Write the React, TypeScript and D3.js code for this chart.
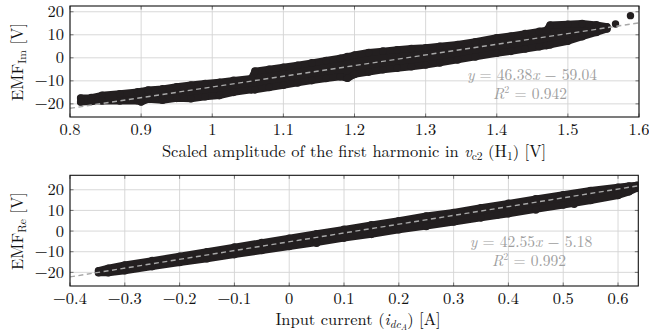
import React from 'react'
import { scaleLinear, area, line } from 'd3'

// ---- top panel data ----
const topXTicks = [0.8, 0.9, 1, 1.1, 1.2, 1.3, 1.4, 1.5, 1.6]
const yTicks = [-20, -10, 0, 10, 20]
const topBandX = [0.815, 0.83, 0.845, 0.87, 0.895, 0.9, 0.91, 0.93, 0.95, 0.97, 0.99, 1.01, 1.03, 1.055, 1.06, 1.08, 1.1, 1.12, 1.14, 1.16, 1.18, 1.19, 1.2, 1.22, 1.24, 1.26, 1.28, 1.3, 1.32, 1.345, 1.37, 1.4, 1.42, 1.44, 1.46, 1.47, 1.475, 1.5, 1.52, 1.54, 1.555]
const topBandUpper = [-17.5, -17.3, -16.3, -15.6, -14.8, -14.6, -14.0, -13.5, -12.6, -11.8, -11.2, -10.6, -9.8, -9.0, -5.8, -5.0, -4.1, -3.2, -2.2, -1.2, -0.2, 0.5, 1.2, 2.3, 2.9, 3.5, 4.0, 4.4, 5.0, 5.8, 7.0, 8.7, 9.5, 10.5, 11.5, 12.0, 14.2, 14.6, 14.9, 14.3, 13.5]
const topBandLower = [-19.2, -19.0, -18.7, -18.7, -18.6, -19.2, -18.0, -18.4, -17.6, -17.8, -16.9, -16.4, -15.0, -13.9, -13.9, -12.9, -11.9, -10.9, -9.9, -9.0, -8.2, -8.9, -7.2, -6.2, -5.2, -4.5, -3.9, -3.1, -2.2, -0.9, 0.4, 2.0, 2.8, 3.8, 4.8, 5.3, 5.6, 7.2, 9.2, 11.0, 12.5]
const topOutX = [1.567, 1.588]
const topOutY = [14.7, 18.3]
const topFit = { a: 46.38, b: -59.04, r2: '0.942' }

// ---- bottom panel data ----
const botXTicks = [-0.4, -0.3, -0.2, -0.1, 0, 0.1, 0.2, 0.3, 0.4, 0.5, 0.6]
const botBandX = [-0.348, -0.33, -0.3, -0.25, -0.2, -0.15, -0.1, -0.05, 0, 0.05, 0.1, 0.15, 0.2, 0.25, 0.3, 0.35, 0.4, 0.45, 0.5, 0.55, 0.6, 0.62, 0.635]
const botBandUpper = [-19.2, -18.0, -16.4, -14.3, -12.2, -10.0, -7.8, -5.6, -3.5, -1.3, 0.8, 3.0, 5.0, 7.3, 9.0, 11.3, 13.4, 15.6, 17.6, 19.6, 21.2, 21.8, 22.2]
const botBandLower = [-20.2, -20.2, -19.2, -17.2, -15.2, -13.4, -11.4, -9.4, -7.5, -5.6, -3.4, -1.6, 0.6, 2.4, 4.4, 6.4, 8.4, 10.6, 12.6, 14.8, 17.2, 19.0, 20.8]
const botOutX = [0.05, 0.25, 0.38, 0.45, 0.52]
const botOutY = [-5.9, 2.2, 7.8, 10.2, 13.0]
const botFit = { a: 42.55, b: -5.18, r2: '0.992' }

const ink = '#231f20'
const font = "'Latin Modern Roman', 'Liberation Serif', serif"

const fmt = (t: number) => String(t).replace('-', '\u2212')

function Panel(props: any) {
  const { id, xDomain, yDomain, x0, x1, y0, y1, xTicks, bandX, upper, lower, outX, outY, fit, eqPos } = props
  const x = scaleLinear().domain(xDomain).range([x0, x1])
  const y = scaleLinear().domain(yDomain).range([y1, y0])

  const band = area<number>()
    .x((d, i) => x(bandX[i]))
    .y0((d, i) => y(lower[i]))
    .y1((d, i) => y(upper[i]))
  const fitLine = line<number>()
    .x(d => x(d))
    .y(d => y(fit.a * d + fit.b))

  return (
    <g>
      <defs>
        <clipPath id={'clip-' + id}>
          <rect x={x0} y={y0} width={x1 - x0} height={y1 - y0} />
        </clipPath>
      </defs>
      {/* grid */}
      {xTicks.map((t: number) => (
        <line key={'gx' + t} x1={x(t)} x2={x(t)} y1={y0} y2={y1} stroke="#d4d4d4" strokeWidth={0.9} />
      ))}
      {yTicks.map(t => (
        <line key={'gy' + t} x1={x0} x2={x1} y1={y(t)} y2={y(t)} stroke="#d4d4d4" strokeWidth={0.9} />
      ))}
      {/* inner ticks */}
      {xTicks.map((t: number) => (
        <g key={'tx' + t} stroke="#555" strokeWidth={0.8}>
          <line x1={x(t)} x2={x(t)} y1={y1} y2={y1 - 3.5} />
          <line x1={x(t)} x2={x(t)} y1={y0} y2={y0 + 3.5} />
        </g>
      ))}
      {yTicks.map(t => (
        <g key={'ty' + t} stroke="#555" strokeWidth={0.8}>
          <line x1={x0} x2={x0 + 3.5} y1={y(t)} y2={y(t)} />
          <line x1={x1} x2={x1 - 3.5} y1={y(t)} y2={y(t)} />
        </g>
      ))}

      <g clipPath={`url(#clip-${id})`}>
        {/* scatter band */}
        <path d={band(bandX) || ''} fill={ink} stroke={ink} strokeWidth={7} strokeLinejoin="round" />
        {bandX.map((v: number, i: number) => (
          <g key={'b' + i} fill={ink}>
            <circle cx={x(v)} cy={y(upper[i])} r={3.8} />
            <circle cx={x(v)} cy={y(lower[i])} r={3.8} />
          </g>
        ))}
        {outX.map((v: number, i: number) => (
          <circle key={'o' + i} cx={x(v)} cy={y(outY[i])} r={3.7} fill={ink} />
        ))}
        {/* fit */}
        <path d={fitLine(xDomain) || ''} fill="none" stroke="#a8a8a8" strokeWidth={1.4} strokeDasharray="5,3.5" />
      </g>

      <rect x={x0} y={y0} width={x1 - x0} height={y1 - y0} fill="none" stroke="#111" strokeWidth={1.1} />

      {/* tick labels */}
      {xTicks.map((t: number) => (
        <text key={'lx' + t} x={x(t)} y={y1 + 18} textAnchor="middle" fontSize={16.5} fontFamily={font} fill="#111">
          {fmt(t)}
        </text>
      ))}
      {yTicks.map(t => (
        <text key={'ly' + t} x={x0 - 6} y={y(t) + 5.5} textAnchor="end" fontSize={16.5} fontFamily={font} fill="#111">
          {fmt(t)}
        </text>
      ))}

      {/* equation */}
      <g fontFamily={font} fontSize={15.5} fill="#9e9e9e" textAnchor="middle">
        <text x={eqPos[0]} y={eqPos[1]}>
          <tspan fontStyle="italic">y</tspan> = {fit.a.toFixed(2)}<tspan fontStyle="italic">x</tspan> {'\u2212'} {Math.abs(fit.b).toFixed(2)}
        </text>
        <text x={eqPos[0] - 2} y={eqPos[1] + 19}>
          <tspan fontStyle="italic">R</tspan><tspan fontSize={10} dy={-6}>2</tspan><tspan dy={6}>{'  '}=  {fit.r2}</tspan>
        </text>
      </g>
    </g>
  )
}

export default function App() {
  return (
    <svg width={649} height={335} style={{ position: 'absolute', left: 0, top: 0, background: '#fff' }}>
      <Panel id="top" xDomain={[0.8, 1.6]} yDomain={[-25.7, 22.5]} x0={70} x1={639} y0={6} y1={117}
        xTicks={topXTicks} bandX={topBandX} upper={topBandUpper} lower={topBandLower}
        outX={topOutX} outY={topOutY} fit={topFit} eqPos={[532, 80]} />
      <Panel id="bot" xDomain={[-0.4, 0.637]} yDomain={[-26.6, 27.0]} x0={70} x1={638.3} y0={175.3} y1={286}
        xTicks={botXTicks} bandX={botBandX} upper={botBandUpper} lower={botBandLower}
        outX={botOutX} outY={botOutY} fit={botFit} eqPos={[531, 247]} />

      {/* axis labels */}
      <g fontFamily={font} fontSize={16.5} fill="#111">
        <text x={354} y={157} textAnchor="middle">
          Scaled amplitude of the first harmonic in <tspan fontStyle="italic">v</tspan>
          <tspan fontSize={11.5} dy={3}>c2</tspan>
          <tspan dy={-3}> (H</tspan><tspan fontSize={11.5} dy={3}>1</tspan><tspan dy={-3}>) [V]</tspan>
        </text>
        <text x={358} y={325} textAnchor="middle">
          Input current (<tspan fontStyle="italic">i</tspan>
          <tspan fontSize={11.5} dy={3} fontStyle="italic">dc</tspan>
          <tspan fontSize={8.5} dy={2} fontStyle="italic">A</tspan>
          <tspan dy={-5}>) [A]</tspan>
        </text>
        <text transform="translate(23,62) rotate(-90)" textAnchor="middle">
          EMF<tspan fontSize={11.5} dy={3}>Im</tspan><tspan dy={-3}> [V]</tspan>
        </text>
        <text transform="translate(23,231) rotate(-90)" textAnchor="middle">
          EMF<tspan fontSize={11.5} dy={3}>Re</tspan><tspan dy={-3}> [V]</tspan>
        </text>
      </g>
    </svg>
  )
}
